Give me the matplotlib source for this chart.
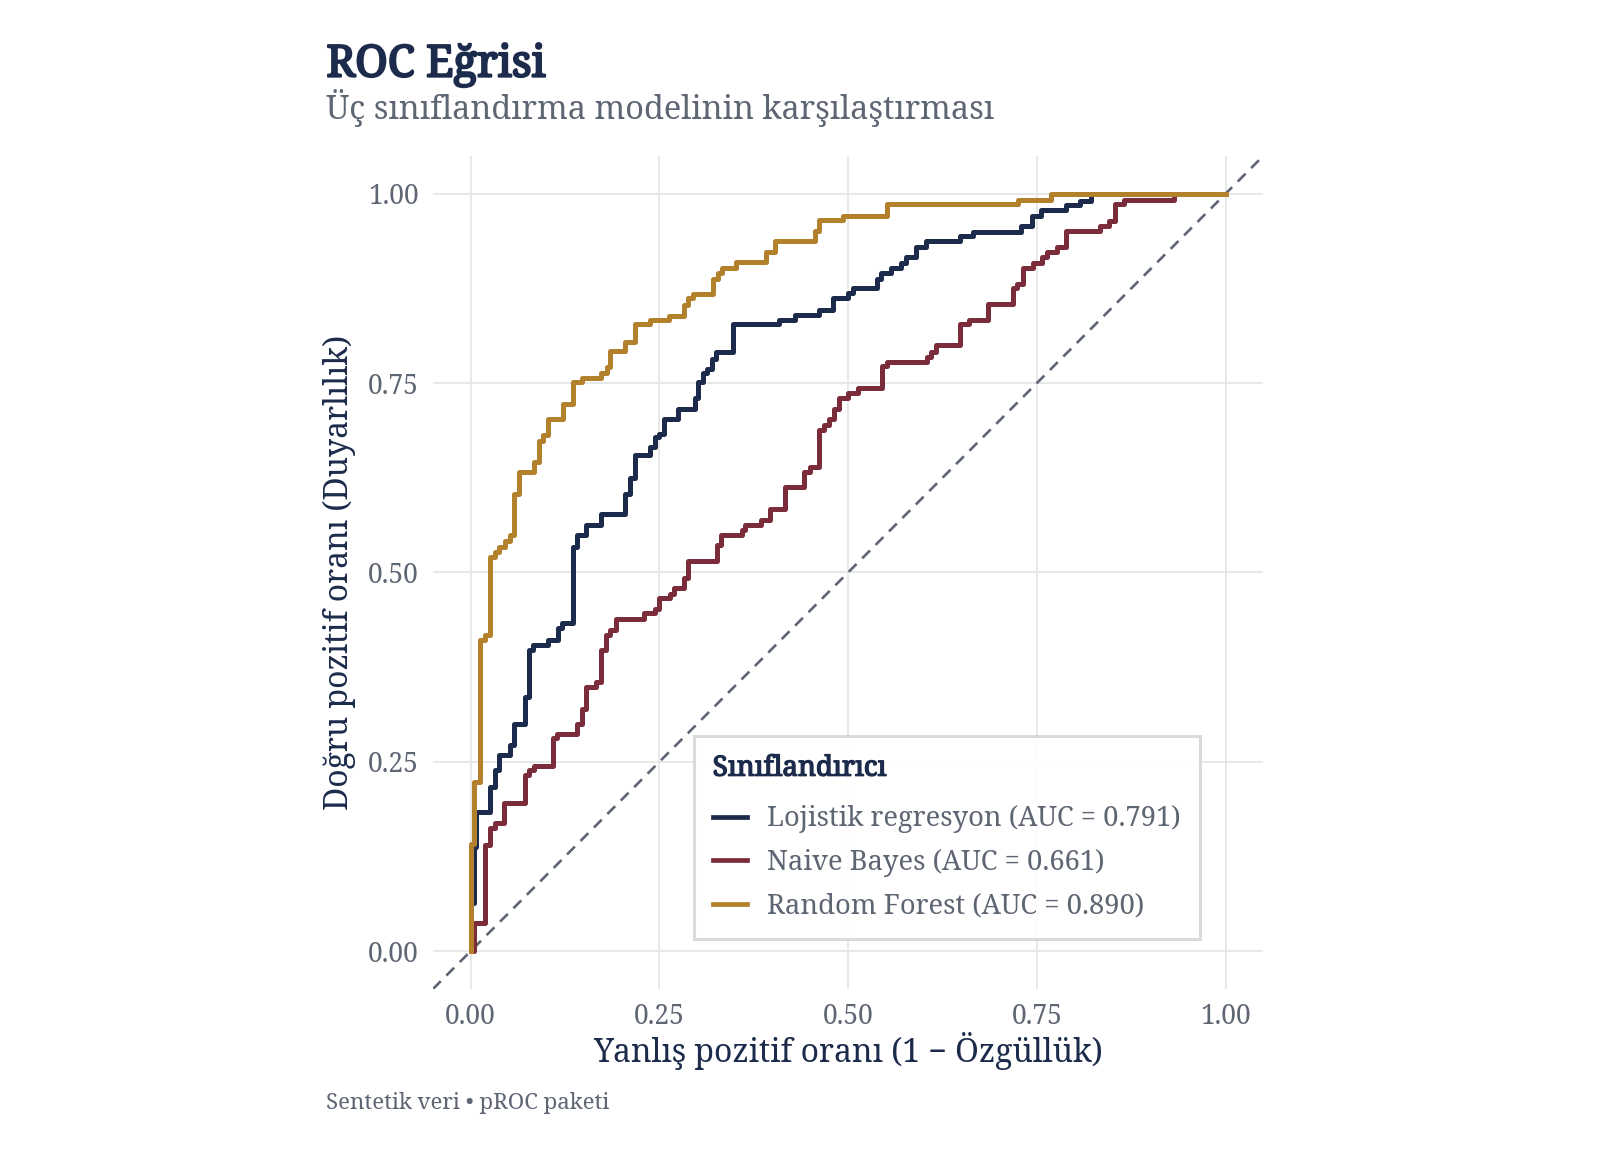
import matplotlib
matplotlib.use('Agg')
import matplotlib.pyplot as plt
import matplotlib.patheffects as pe
from matplotlib.lines import Line2D

plt.rcParams['font.family'] = ['Noto Serif', 'DejaVu Serif']

# ROC step corners (fpr, tpr)
lr_fpr = [0, 0, 0.005, 0.0066, 0.025, 0.032, 0.038, 0.052, 0.057, 0.072, 0.077, 0.083, 0.102, 0.116, 0.121,
          0.136, 0.141, 0.153, 0.173, 0.204, 0.211, 0.217, 0.237, 0.244, 0.250, 0.256, 0.275, 0.297, 0.301,
          0.308, 0.313, 0.319, 0.325, 0.347, 0.409, 0.429, 0.461, 0.480, 0.500, 0.506, 0.538, 0.544, 0.557,
          0.570, 0.576, 0.590, 0.603, 0.648, 0.666, 0.729, 0.743, 0.756, 0.789, 0.807, 0.822, 1.0]
lr_tpr = [0, 0.063, 0.138, 0.184, 0.217, 0.239, 0.259, 0.272, 0.300, 0.336, 0.397, 0.404, 0.411, 0.426, 0.433,
          0.534, 0.549, 0.562, 0.577, 0.604, 0.624, 0.655, 0.666, 0.679, 0.683, 0.703, 0.716, 0.730, 0.751,
          0.763, 0.769, 0.782, 0.791, 0.828, 0.833, 0.840, 0.847, 0.862, 0.869, 0.876, 0.888, 0.895, 0.902,
          0.909, 0.916, 0.930, 0.937, 0.944, 0.950, 0.957, 0.971, 0.978, 0.985, 0.991, 1.0, 1.0]

nb_fpr = [0, 0.005, 0.019, 0.025, 0.032, 0.044, 0.072, 0.077, 0.084, 0.109, 0.114, 0.141, 0.147, 0.153, 0.166,
          0.173, 0.179, 0.185, 0.192, 0.230, 0.244, 0.250, 0.264, 0.269, 0.283, 0.288, 0.326, 0.332, 0.359,
          0.364, 0.384, 0.397, 0.416, 0.442, 0.449, 0.461, 0.468, 0.475, 0.481, 0.488, 0.500, 0.513, 0.545,
          0.551, 0.604, 0.610, 0.616, 0.648, 0.660, 0.685, 0.718, 0.724, 0.731, 0.745, 0.757, 0.763, 0.776,
          0.789, 0.833, 0.846, 0.853, 0.866, 0.932, 1.0]
nb_tpr = [0, 0.037, 0.140, 0.162, 0.169, 0.195, 0.232, 0.239, 0.245, 0.281, 0.287, 0.300, 0.320, 0.349, 0.355,
          0.397, 0.417, 0.424, 0.439, 0.446, 0.452, 0.466, 0.472, 0.479, 0.492, 0.515, 0.536, 0.549, 0.556,
          0.562, 0.569, 0.584, 0.613, 0.633, 0.639, 0.688, 0.694, 0.703, 0.716, 0.730, 0.737, 0.744, 0.772,
          0.778, 0.784, 0.791, 0.800, 0.828, 0.833, 0.855, 0.876, 0.881, 0.902, 0.909, 0.916, 0.923, 0.930,
          0.951, 0.957, 0.964, 0.986, 0.992, 1.0, 1.0]

rf_fpr = [0, 0, 0.005, 0.012, 0.019, 0.025, 0.032, 0.038, 0.045, 0.052, 0.058, 0.064, 0.084, 0.090, 0.096,
          0.102, 0.122, 0.136, 0.148, 0.173, 0.180, 0.185, 0.205, 0.217, 0.237, 0.263, 0.283, 0.288, 0.294,
          0.321, 0.328, 0.333, 0.352, 0.391, 0.403, 0.456, 0.461, 0.493, 0.551, 0.725, 0.769, 1.0]
rf_tpr = [0, 0.142, 0.223, 0.411, 0.417, 0.520, 0.527, 0.534, 0.542, 0.549, 0.604, 0.633, 0.646, 0.674, 0.681,
          0.703, 0.723, 0.751, 0.757, 0.763, 0.771, 0.792, 0.804, 0.828, 0.833, 0.839, 0.853, 0.862, 0.868,
          0.888, 0.895, 0.902, 0.910, 0.923, 0.938, 0.951, 0.965, 0.971, 0.986, 0.992, 1.0, 1.0]

models = ['Lojistik regresyon', 'Naive Bayes', 'Random Forest']
aucs = [0.791, 0.661, 0.890]
colors = ['#1c2b4b', '#7b2c3a', '#b3802b']
ticks = [0.0, 0.25, 0.5, 0.75, 1.0]

navy = '#1c2b4b'
grey = '#5e6573'

fig = plt.figure(figsize=(16, 11.5), dpi=100)
ax = fig.add_axes([0.2706, 0.140, 0.519, 0.7245])

ax.axline((0, 0), (1, 1), color=grey, lw=1.9, linestyle=(0, (4.2, 3.0)), zorder=2)

for fx, ty, c in zip([lr_fpr, nb_fpr, rf_fpr], [lr_tpr, nb_tpr, rf_tpr], colors):
    ax.step(fx, ty, where='post', color=c, lw=3.6, zorder=3)

ax.set_xlim(-0.05, 1.05)
ax.set_ylim(-0.05, 1.05)
ax.set_xticks(ticks)
ax.set_yticks(ticks)
ax.set_xticklabels(['%.2f' % t for t in ticks])
ax.set_yticklabels(['%.2f' % t for t in ticks])
ax.grid(True, color='#e4e4e4', lw=1.2)
ax.set_axisbelow(True)
for s in ax.spines.values():
    s.set_visible(False)
ax.tick_params(length=0, labelsize=19, labelcolor=grey, pad=10)

ax.set_xlabel('Yanlış pozitif oranı (1 − Özgüllük)', fontsize=23, color=navy, labelpad=1)
ax.set_ylabel('Doğru pozitif oranı (Duyarlılık)', fontsize=23, color=navy, labelpad=9)

handles = [Line2D([0], [0], color=c, lw=3.4) for c in colors]
labels = ['%s (AUC = %.3f)' % (m, a) for m, a in zip(models, aucs)]
leg = ax.legend(handles, labels, title='Sınıflandırıcı', loc='lower left',
                bbox_to_anchor=(0.3145, 0.060), borderaxespad=0, fontsize=19.7, title_fontsize=20,
                frameon=True, fancybox=False, handlelength=1.25, handletextpad=0.75,
                labelspacing=0.57, borderpad=0.68, alignment='left')
leg._legend_box.sep = 0.57 * 19.7 + 5
leg.get_frame().set_edgecolor('#d6d6d6')
leg.get_frame().set_linewidth(2.2)
leg.get_frame().set_facecolor('white')
leg.get_frame().set_alpha(0.9)
leg.get_title().set_color(navy)
leg.get_title().set_path_effects([pe.withStroke(linewidth=1.0, foreground=navy)])
for t in leg.get_texts():
    t.set_color(grey)

fig.text(0.204, 0.943, 'ROC Eğrisi', fontsize=31.6, color=navy, va='center', ha='left',
         path_effects=[pe.withStroke(linewidth=1.6, foreground=navy)])
fig.text(0.204, 0.906, 'Üç sınıflandırma modelinin karşılaştırması', fontsize=23.4, color=grey,
         va='center', ha='left')
fig.text(0.204, 0.041, 'Sentetik veri • pROC paketi', fontsize=16, color=grey, va='center', ha='left')

fig.savefig('out.png', dpi=100)
